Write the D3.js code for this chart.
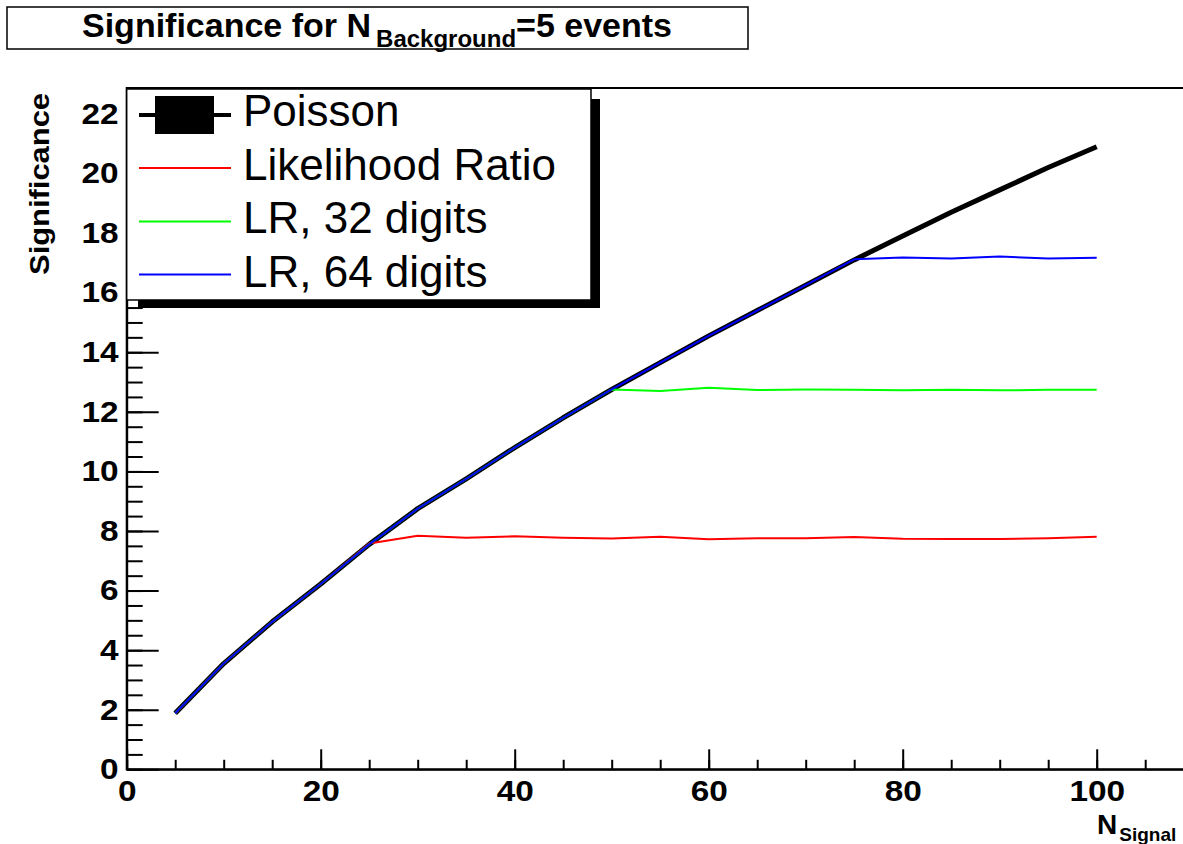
<!DOCTYPE html>
<html>
<head>
<meta charset="utf-8">
<script src="https://cdn.jsdelivr.net/npm/d3@7"></script>
<style>
    body { margin: 0; background: #fff; }
    svg { display: block; font-family: "Liberation Sans", Arial, sans-serif; }
</style>
</head>
<body>
<svg id="SVG_CONTAINER" width="1183" height="844"></svg>
<script>
// signal counts on the x axis
const nSignal = [5, 10, 15, 20, 25, 30, 35, 40, 45, 50, 55, 60, 65, 70, 75, 80, 85, 90, 95, 100];

// significance values
const poisson = [1.88, 3.55, 4.95, 6.22, 7.55, 8.75, 9.75, 10.8, 11.8, 12.75, 13.65, 14.55, 15.4, 16.25, 17.1, 17.9, 18.7, 19.45, 20.2, 20.9];
const likelihoodRatio = [1.88, 3.55, 4.95, 6.22, 7.58, 7.84, 7.77, 7.82, 7.77, 7.75, 7.81, 7.72, 7.76, 7.76, 7.80, 7.74, 7.73, 7.73, 7.76, 7.81];
const lr32 = [1.88, 3.55, 4.95, 6.22, 7.55, 8.75, 9.75, 10.8, 11.8, 12.75, 12.70, 12.81, 12.73, 12.75, 12.74, 12.72, 12.74, 12.72, 12.74, 12.74];
const lr64 = [1.88, 3.55, 4.95, 6.22, 7.55, 8.75, 9.75, 10.8, 11.8, 12.75, 13.65, 14.55, 15.4, 16.25, 17.12, 17.18, 17.15, 17.21, 17.15, 17.17];

const seriesNames = ["Poisson", "Likelihood Ratio", "LR, 32 digits", "LR, 64 digits"];
const seriesColours = ["#000000", "#ff0000", "#00ff00", "#0000ff"];

// axis ranges and ticks
const xDomain = [0, 110];
const yDomain = [0, 22.87];
const xMajorTicks = [0, 20, 40, 60, 80, 100];
const yMajorTicks = [0, 2, 4, 6, 8, 10, 12, 14, 16, 18, 20, 22];

const MARGIN = {
    "LEFT": 126.7,
    "TOP": 88,
    "BOTTOM": 769.3,
};

let svg = d3.select("#SVG_CONTAINER");

//** SCALES *****************************************
let xScale = d3.scaleLinear()
    .domain(xDomain)
    .range([MARGIN.LEFT, MARGIN.LEFT + 9.7 * (xDomain[1] - xDomain[0])]);

let yScale = d3.scaleLinear()
    .domain(yDomain)
    .range([MARGIN.BOTTOM, MARGIN.TOP]);

//** TITLE BOX *****************************************
svg.append("rect")
    .attr("x", 7).attr("y", 7)
    .attr("width", 741).attr("height", 42)
    .attr("fill", "#fff")
    .attr("stroke", "#000")
    .attr("stroke-width", 1.5);

let title = svg.append("text")
    .attr("x", 377).attr("y", 37)
    .attr("text-anchor", "middle")
    .attr("font-weight", "bold")
    .attr("font-size", 34);
title.append("tspan").text("Significance for N");
title.append("tspan").attr("dx", 5).attr("dy", 10).attr("font-size", 24).text("Background");
title.append("tspan").attr("dy", -10).text("=5 events");

//** FRAME *****************************************
svg.append("rect")
    .attr("x", xScale(xDomain[0]))
    .attr("y", yScale(yDomain[1]))
    .attr("width", xScale(xDomain[1]) - xScale(xDomain[0]))
    .attr("height", yScale(yDomain[0]) - yScale(yDomain[1]))
    .attr("fill", "none")
    .attr("stroke", "#000")
    .attr("stroke-width", 2);

//** AXES *****************************************
// minor ticks first, inward
svg.append("g")
    .attr("transform", "translate(0," + MARGIN.BOTTOM + ")")
    .call(d3.axisBottom(xScale).tickValues(d3.range(0, 111, 5)).tickSize(-9.5).tickFormat(""))
    .call(g => g.select(".domain").remove());

svg.append("g")
    .attr("transform", "translate(" + MARGIN.LEFT + ",0)")
    .call(d3.axisLeft(yScale).tickValues(d3.range(0, 22.9, 0.5)).tickSize(-16).tickFormat(""))
    .call(g => g.select(".domain").remove());

// major ticks with labels
let xAxis = svg.append("g")
    .attr("transform", "translate(0," + MARGIN.BOTTOM + ")")
    .call(d3.axisBottom(xScale).tickValues(xMajorTicks).tickSizeInner(-20).tickSizeOuter(0).tickPadding(11));

let yAxis = svg.append("g")
    .attr("transform", "translate(" + MARGIN.LEFT + ",0)")
    .call(d3.axisLeft(yScale).tickValues(yMajorTicks).tickSizeInner(-32).tickSizeOuter(0).tickPadding(7));

[xAxis, yAxis].forEach(function (a) {
    a.attr("font-family", null).attr("font-size", null);
    a.selectAll("text")
        .attr("font-size", 29)
        .attr("font-weight", "bold")
        .attr("fill", "#000")
        .attr("transform", "scale(1.15,1)");
});
svg.selectAll(".tick line, .domain").attr("stroke", "#000").attr("stroke-width", 2);

// axis titles
let xLabel = svg.append("text")
    .attr("x", 1097).attr("y", 834)
    .attr("font-weight", "bold")
    .attr("font-size", 28);
xLabel.append("tspan").text("N");
xLabel.append("tspan").attr("dx", 2).attr("dy", 7).attr("font-size", 19).text("Signal");

svg.append("text")
    .attr("transform", "translate(49,93) rotate(-90)")
    .attr("text-anchor", "end")
    .attr("font-weight", "bold")
    .attr("font-size", 27)
    .attr("textLength", 182)
    .attr("lengthAdjust", "spacingAndGlyphs")
    .text("Significance");

//** LINES *****************************************
let allSeries = [poisson, likelihoodRatio, lr32, lr64];
let widths = [5, 2, 2, 2];

let line = d3.line()
    .x((d, i) => xScale(nSignal[i]))
    .y(d => yScale(d));

allSeries.forEach(function (values, k) {
    svg.append("path")
        .datum(values)
        .attr("d", line)
        .attr("fill", "none")
        .attr("stroke", seriesColours[k])
        .attr("stroke-width", widths[k])
        .attr("stroke-linejoin", "round");
});

//** LEGEND *****************************************
svg.append("rect")
    .attr("x", 138).attr("y", 99)
    .attr("width", 462).attr("height", 209)
    .attr("fill", "#000");

svg.append("rect")
    .attr("x", MARGIN.LEFT).attr("y", 89)
    .attr("width", 591 - MARGIN.LEFT).attr("height", 211)
    .attr("fill", "#fff")
    .attr("stroke", "#000")
    .attr("stroke-width", 1.5);

let entryY = [115, 168, 221.5, 274.5];
let baseY = [126, 180, 233, 287];

seriesNames.forEach(function (name, k) {
    svg.append("line")
        .attr("x1", 139).attr("x2", 231)
        .attr("y1", entryY[k]).attr("y2", entryY[k])
        .attr("stroke", seriesColours[k])
        .attr("stroke-width", k === 0 ? 4 : 2);

    if (k === 0) {
        svg.append("rect")
            .attr("x", 155).attr("y", 96)
            .attr("width", 59).attr("height", 38)
            .attr("fill", "#000");
    }

    svg.append("text")
        .attr("x", 243).attr("y", baseY[k])
        .attr("font-size", 44)
        .attr("fill", "#000")
        .text(name);
});
</script>
</body>
</html>
